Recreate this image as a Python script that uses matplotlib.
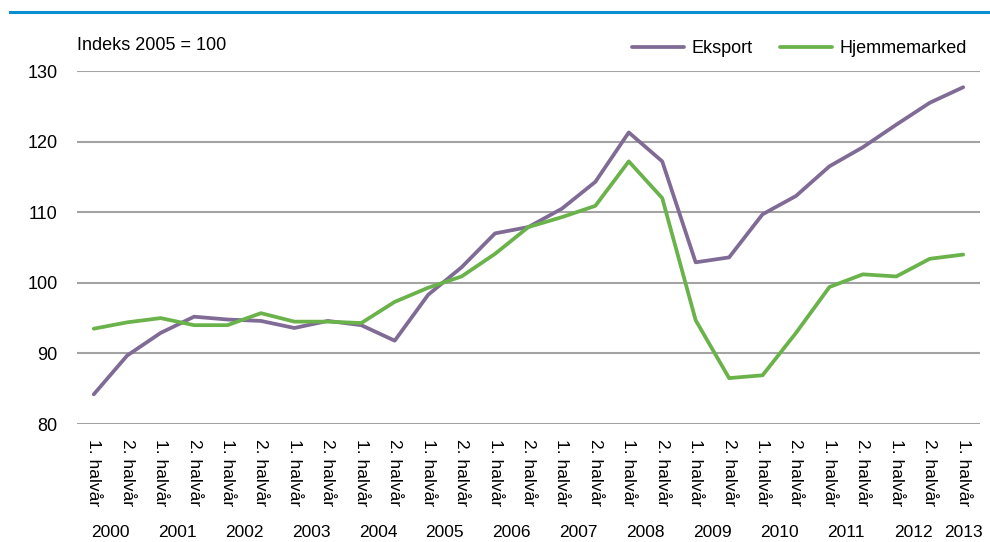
import matplotlib

matplotlib.use("Agg")
import matplotlib.pyplot as plt
from matplotlib.lines import Line2D

plt.rcParams["font.family"] = ["Liberation Sans", "DejaVu Sans"]

years = ["2000", "2001", "2002", "2003", "2004", "2005", "2006",
         "2007", "2008", "2009", "2010", "2011", "2012", "2013"]
half_labels = ["1. halvår", "2. halvår"] * 13 + ["1. halvår"]

eksport = [84.2, 89.7, 92.9, 95.2, 94.8, 94.6, 93.6, 94.6, 94.0, 91.8,
           98.3, 102.2, 107.0, 107.9, 110.5, 114.3, 121.3, 117.2, 102.9, 103.6,
           109.7, 112.3, 116.5, 119.2, 122.4, 125.5, 127.7]
hjemmemarked = [93.5, 94.4, 95.0, 94.0, 94.0, 95.7, 94.5, 94.5, 94.3, 97.3,
                99.3, 100.9, 104.1, 107.9, 109.3, 110.9, 117.2, 112.0, 94.7, 86.5,
                86.9, 92.9, 99.4, 101.2, 100.9, 103.4, 104.0]
yticks = [80, 90, 100, 110, 120, 130]

PURPLE = "#7f6b95"
GREEN = "#6ab24a"
GRID = "#a3a3a3"

fig = plt.figure(figsize=(9.9, 5.42), dpi=100)
ax = fig.add_axes([0.0778, 0.2177, 0.912, 0.6513])

x = list(range(len(half_labels)))
ax.plot(x, eksport, color=PURPLE, lw=2.7, label="Eksport", solid_capstyle="round")
ax.plot(x, hjemmemarked, color=GREEN, lw=2.7, label="Hjemmemarked", solid_capstyle="round")

ax.set_xlim(-0.5, len(x) - 0.5)
ax.set_ylim(80, 130)
ax.set_yticks(yticks)
ax.yaxis.grid(True, color=GRID, lw=1.5)
ax.set_axisbelow(True)
for spine in ax.spines.values():
    spine.set_visible(False)

ax.set_xticks(x)
ax.set_xticklabels(half_labels, rotation=270, va="top", ha="center", fontsize=12.5)
ax.tick_params(axis="x", length=0, pad=11)
ax.tick_params(axis="y", length=0, pad=14, labelsize=13)

# year labels under each pair of half-years; the last year has only one half
for k, year in enumerate(years):
    pos = 2 * k + 0.5 if 2 * k + 1 < len(x) else 2 * k
    ax.text(pos, -0.306, year, transform=ax.get_xaxis_transform(),
            ha="center", va="center", fontsize=12.5)

ax.text(0.0, 1.073, "Indeks 2005 = 100", transform=ax.transAxes,
        ha="left", va="center", fontsize=13)

ax.legend(loc="center right", bbox_to_anchor=(0.9935, 1.064), ncol=2, frameon=False,
          fontsize=13, handlelength=2.9, handletextpad=0.4, columnspacing=1.5,
          borderaxespad=0)

fig.add_artist(Line2D([10 / 990, 1.0], [1 - 12 / 542, 1 - 12 / 542],
                      color="#0a8fd0", lw=2.2))

fig.savefig("out.png", dpi=100)
